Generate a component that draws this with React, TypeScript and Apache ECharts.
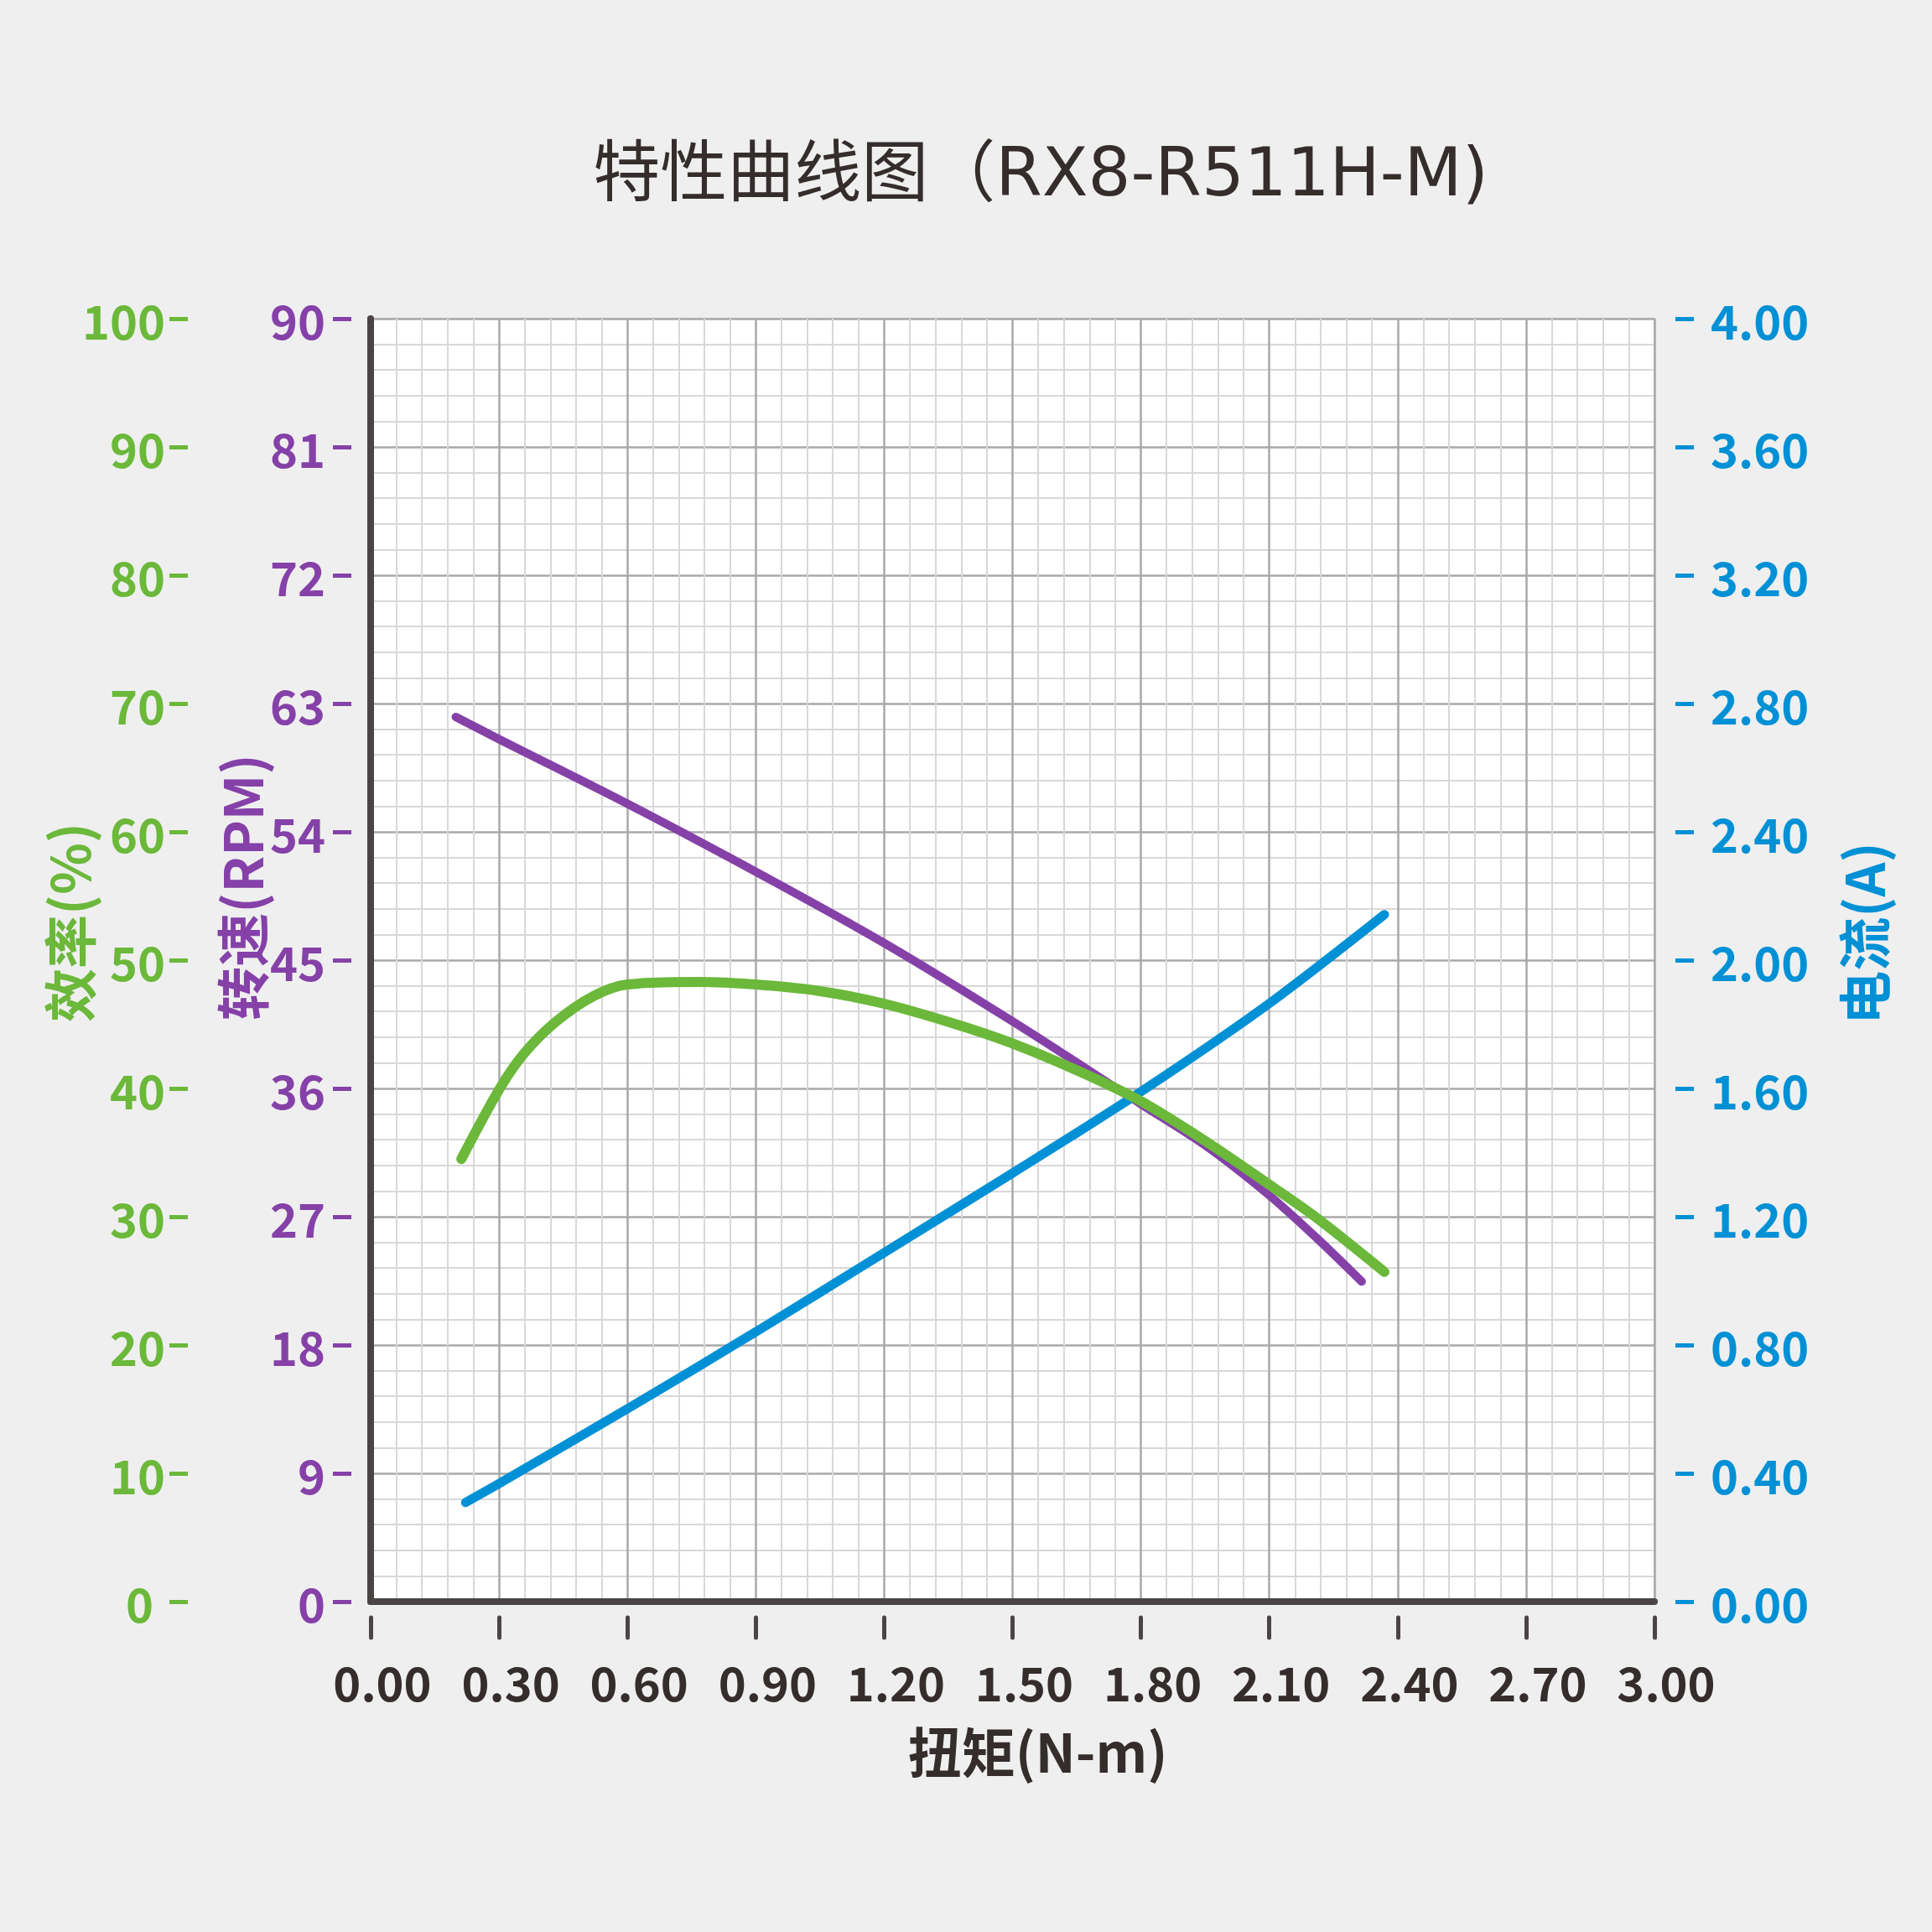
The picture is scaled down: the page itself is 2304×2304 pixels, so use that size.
import React, { useEffect, useRef } from 'react';
import * as echarts from 'echarts';

// Torque (N-m) sample points
const torqueEff = [0.212, 0.3, 0.358, 0.433, 0.521, 0.6, 0.766, 0.9, 1.047, 1.2, 1.368, 1.5, 1.651, 1.8, 1.955, 2.1, 2.211, 2.369];
const efficiency = [34.5, 39.9, 42.7, 45.2, 47.2, 48.1, 48.3, 48.1, 47.6, 46.6, 45.0, 43.5, 41.4, 39.0, 35.8, 32.5, 29.9, 25.7];

const torqueSpeed = [0.199, 0.3, 0.6, 0.9, 1.2, 1.5, 1.8, 1.955, 2.1, 2.211, 2.316];
const speed = [62.06, 60.5, 55.97, 51.2, 46.2, 40.7, 34.9, 31.9, 28.5, 25.5, 22.45];

const torqueCurrent = [0.222, 0.3, 0.6, 0.9, 1.2, 1.5, 1.8, 2.1, 2.369];
const current = [0.309, 0.368, 0.601, 0.841, 1.088, 1.336, 1.59, 1.865, 2.142];

const TITLE = '特性曲线图（RX8-R511H-M)';
const X_NAME = '扭矩(N-m)';
const EFF_NAME = '效率(%)';
const SPEED_NAME = '转速(RPM)';
const CURRENT_NAME = '电流(A)';

const GREEN = '#6bb83a';
const PURPLE = '#8541a8';
const BLUE = '#0090d5';
const DARK = '#342d2b';
const AXIS_DARK = '#4a4544';
const FONT = "'Noto Sans CJK SC', 'Noto Sans', sans-serif";
const TITLE_FONT = "'DejaVu Sans', 'Noto Sans CJK SC', sans-serif";

const pairs = (xs: number[], ys: number[]) => xs.map((x, i) => [x, ys[i]]);

export default function App() {
  const ref = useRef<HTMLDivElement>(null);

  useEffect(() => {
    const chart = echarts.init(ref.current!, undefined, { renderer: 'svg', width: 2304, height: 2304 });
    const labelFont = { fontSize: 56, fontWeight: 'bold' as const, fontFamily: FONT };
    const nameFont = { fontSize: 64, fontWeight: 'bold' as const, fontFamily: FONT };

    const option: any = {
      animation: false,
      backgroundColor: '#efefef',
      title: {
        text: TITLE,
        left: 1236,
        top: 160,
        textAlign: 'center',
        textStyle: { fontSize: 80, fontWeight: 'normal', color: DARK, fontFamily: TITLE_FONT },
      },
      grid: {
        left: 442,
        right: 331,
        top: 380,
        bottom: 394,
        show: true,
        backgroundColor: '#ffffff',
        borderColor: '#c8c8c8',
        borderWidth: 2,
        outerBoundsMode: 'none',
      },
      xAxis: [
        {
          type: 'value',
          min: 0,
          max: 3,
          interval: 0.3,
          position: 'bottom',
          offset: 19,
          axisLine: { show: false, onZero: false },
          axisTick: { show: true, length: 24, lineStyle: { color: AXIS_DARK, width: 5, cap: 'round' } },
          axisLabel: {
            ...labelFont,
            color: DARK,
            margin: 47,
            padding: [0, 0, 0, 28],
            formatter: (v: number) => v.toFixed(2),
          },
          splitLine: { show: true, lineStyle: { color: '#a9a9a9', width: 2.5 } },
          minorTick: { show: false, splitNumber: 5 },
          minorSplitLine: { show: true, lineStyle: { color: '#d8d8d8', width: 2 } },
          name: X_NAME,
          nameLocation: 'middle',
          nameGap: 125,
          nameMoveOverlap: false,
          nameTextStyle: { ...nameFont, color: DARK, padding: [0, 0, 0, 60] },
        },
        {
          type: 'value',
          min: 0,
          max: 3,
          position: 'bottom',
          offset: 0,
          axisLine: { show: true, onZero: false, lineStyle: { color: AXIS_DARK, width: 8 } },
          axisTick: { show: false },
          axisLabel: { show: false },
          splitLine: { show: false },
        },
      ],
      yAxis: [
        {
          type: 'value',
          min: 0,
          max: 100,
          interval: 10,
          position: 'left',
          offset: 218,
          axisLine: { show: false, onZero: false },
          axisTick: { show: true, length: 22, lineStyle: { color: GREEN, width: 5 } },
          axisLabel: {
            ...labelFont,
            color: GREEN,
            margin: 27,
            formatter: (v: number) => (v === 0 ? '{z|0}' : String(v)),
            rich: { z: { ...labelFont, color: GREEN, padding: [0, 14, 0, 0] } },
          },
          splitLine: { show: true, lineStyle: { color: '#a9a9a9', width: 2.5 } },
          minorTick: { show: false, splitNumber: 5 },
          minorSplitLine: { show: true, lineStyle: { color: '#d8d8d8', width: 2 } },
          name: EFF_NAME,
          nameLocation: 'middle',
          nameRotate: 90,
          nameGap: 112,
          nameMoveOverlap: false,
          nameTextStyle: { ...nameFont, color: GREEN, padding: [0, 0, 0, 90] },
        },
        {
          type: 'value',
          min: 0,
          max: 90,
          interval: 9,
          position: 'left',
          offset: 23,
          axisLine: { show: false, onZero: false },
          axisTick: { show: true, length: 22, lineStyle: { color: PURPLE, width: 5 } },
          axisLabel: { ...labelFont, color: PURPLE, margin: 31 },
          splitLine: { show: false },
          name: SPEED_NAME,
          nameLocation: 'middle',
          nameRotate: 90,
          nameGap: 101,
          nameMoveOverlap: false,
          nameTextStyle: { ...nameFont, color: PURPLE, padding: [0, 0, 0, 174] },
        },
        {
          type: 'value',
          min: 0,
          max: 4,
          interval: 0.4,
          position: 'right',
          offset: 25,
          axisLine: { show: false, onZero: false },
          axisTick: { show: true, length: 22, lineStyle: { color: BLUE, width: 5 } },
          axisLabel: { ...labelFont, color: BLUE, margin: 42, formatter: (v: number) => v.toFixed(2) },
          splitLine: { show: false },
          name: CURRENT_NAME,
          nameLocation: 'middle',
          nameRotate: 90,
          nameGap: 190,
          nameMoveOverlap: false,
          nameTextStyle: { ...nameFont, color: BLUE, padding: [0, 0, 0, 64] },
        },
        {
          type: 'value',
          min: 0,
          max: 1,
          position: 'left',
          offset: 0,
          axisLine: { show: true, onZero: false, lineStyle: { color: AXIS_DARK, width: 8 } },
          axisTick: { show: false },
          axisLabel: { show: false },
          splitLine: { show: false },
        },
      ],
      series: [
        {
          name: SPEED_NAME,
          type: 'line',
          xAxisIndex: 0,
          yAxisIndex: 1,
          data: pairs(torqueSpeed, speed),
          smooth: 0.3,
          showSymbol: false,
          lineStyle: { color: PURPLE, width: 10, cap: 'round' },
        },
        {
          name: CURRENT_NAME,
          type: 'line',
          xAxisIndex: 0,
          yAxisIndex: 2,
          data: pairs(torqueCurrent, current),
          smooth: 0.3,
          showSymbol: false,
          lineStyle: { color: BLUE, width: 11, cap: 'round' },
        },
        {
          name: EFF_NAME,
          type: 'line',
          xAxisIndex: 0,
          yAxisIndex: 0,
          data: pairs(torqueEff, efficiency),
          smooth: 0.3,
          showSymbol: false,
          lineStyle: { color: GREEN, width: 12, cap: 'round' },
        },
      ],
    };

    chart.setOption(option);
    return () => chart.dispose();
  }, []);

  return <div ref={ref} style={{ position: 'absolute', left: 0, top: 0, width: 2304, height: 2304 }} />;
}
